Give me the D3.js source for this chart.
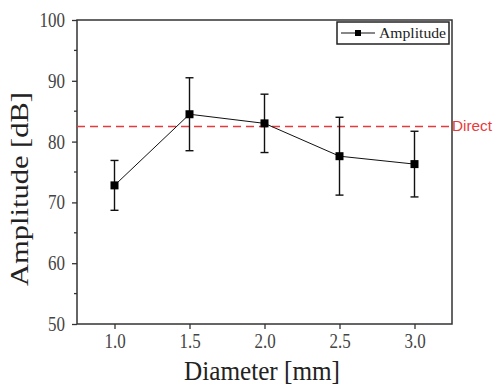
<!DOCTYPE html>
<html>
<head>
<meta charset="utf-8">
<script src="https://cdn.jsdelivr.net/npm/d3@7"></script>
<style>
  body { margin: 0; background: #fff; }
  svg { display: block; }
</style>
</head>
<body>
<svg id="chart" width="494" height="387"></svg>
<script>
// data
const diameters = [1.0, 1.5, 2.0, 2.5, 3.0];
const amplitude = [72.8, 84.5, 83.0, 77.6, 76.3];
const errors = [4.1, 6.0, 4.8, 6.4, 5.4];
const directLevel = 82.5;
const xTicks = [1.0, 1.5, 2.0, 2.5, 3.0];
const yTicks = [50, 60, 70, 80, 90, 100];
const yMinor = [55, 65, 75, 85, 95];

const serif = "'Liberation Serif', 'Times New Roman', serif";
const m = { left: 77, top: 20, right: 452, bottom: 324 };
const squeeze = 0.85; // the original text looks narrow, squash it a bit

const svg = d3.select("#chart");

const x = d3.scaleLinear().domain([0.75, 3.25]).range([m.left, m.right]);
const y = d3.scaleLinear().domain([50, 100]).range([m.bottom, m.top]);

const axisColor = "#333";

// squash text horizontally via textLength
function narrow(sel, k = squeeze) {
  sel.each(function() {
    const w = this.getComputedTextLength();
    d3.select(this).attr("textLength", w * k).attr("lengthAdjust", "spacingAndGlyphs");
  });
}

// frame
svg.append("rect")
    .attr("x", m.left).attr("y", m.top)
    .attr("width", m.right - m.left).attr("height", m.bottom - m.top)
    .attr("fill", "none").attr("stroke", axisColor).attr("stroke-width", 1.5);

// x axis
const gx = svg.append("g")
    .attr("transform", `translate(0,${m.bottom})`)
    .call(d3.axisBottom(x).tickValues(xTicks).tickFormat(d3.format(".1f")).tickSize(5).tickPadding(5));
gx.select(".domain").remove();
gx.selectAll("line").attr("stroke", axisColor).attr("stroke-width", 1.3);
gx.selectAll("text").attr("font-family", serif).attr("font-size", 20).attr("fill", "#444")
    .call(narrow);

// y axis
const gy = svg.append("g")
    .attr("transform", `translate(${m.left},0)`)
    .call(d3.axisLeft(y).tickValues(yTicks).tickSize(5).tickPadding(7));
gy.select(".domain").remove();
gy.selectAll("line").attr("stroke", axisColor).attr("stroke-width", 1.3);
gy.selectAll("text").attr("font-family", serif).attr("font-size", 20).attr("fill", "#444")
    .call(narrow);

svg.append("g")
  .selectAll("line")
  .data(yMinor)
  .join("line")
    .attr("x1", m.left - 3).attr("x2", m.left)
    .attr("y1", d => y(d)).attr("y2", d => y(d))
    .attr("stroke", axisColor).attr("stroke-width", 1.3);

// axis titles
svg.append("text")
    .attr("x", 262).attr("y", 380)
    .attr("text-anchor", "middle")
    .attr("font-family", serif).attr("font-size", 28).attr("fill", "#222")
    .attr("textLength", 156).attr("lengthAdjust", "spacingAndGlyphs")
    .text("Diameter [mm]");

svg.append("text")
    .attr("transform", `translate(28,189) scale(${squeeze},1) rotate(-90)`)
    .attr("text-anchor", "middle")
    .attr("font-family", serif).attr("font-size", 29).attr("fill", "#222")
    .attr("textLength", 194).attr("lengthAdjust", "spacingAndGlyphs")
    .text("Amplitude [dB]");

// direct reference line
svg.append("line")
    .attr("x1", m.left).attr("x2", m.right)
    .attr("y1", y(directLevel)).attr("y2", y(directLevel))
    .attr("stroke", "#e8393d").attr("stroke-width", 1.5)
    .attr("stroke-dasharray", "8,5");

svg.append("text")
    .attr("x", m.right).attr("y", y(directLevel) + 5)
    .attr("font-family", "'Liberation Sans', Arial, sans-serif").attr("font-size", 14)
    .attr("fill", "#e8393d")
    .attr("textLength", 40).attr("lengthAdjust", "spacingAndGlyphs")
    .text("Direct");

const pts = diameters.map((d, i) => ({ x: d, y: amplitude[i], e: errors[i] }));

// line
svg.append("path")
    .datum(pts)
    .attr("fill", "none").attr("stroke", "#111").attr("stroke-width", 1)
    .attr("d", d3.line().x(d => x(d.x)).y(d => y(d.y)));

// error bars
const eb = svg.append("g").attr("stroke", "#111").attr("stroke-width", 1.4);
eb.selectAll(".v").data(pts).join("line")
    .attr("x1", d => x(d.x)).attr("x2", d => x(d.x))
    .attr("y1", d => y(d.y - d.e)).attr("y2", d => y(d.y + d.e));
eb.selectAll(".t").data(pts).join("line")
    .attr("x1", d => x(d.x) - 4).attr("x2", d => x(d.x) + 4)
    .attr("y1", d => y(d.y + d.e)).attr("y2", d => y(d.y + d.e));
eb.selectAll(".b").data(pts).join("line")
    .attr("x1", d => x(d.x) - 4).attr("x2", d => x(d.x) + 4)
    .attr("y1", d => y(d.y - d.e)).attr("y2", d => y(d.y - d.e));

// markers
svg.append("g")
  .selectAll("rect")
  .data(pts)
  .join("rect")
    .attr("x", d => x(d.x) - 4).attr("y", d => y(d.y) - 4)
    .attr("width", 8).attr("height", 8)
    .attr("fill", "#000");

// legend
const lg = svg.append("g");
lg.append("rect")
    .attr("x", 337).attr("y", 22).attr("width", 112).attr("height", 22)
    .attr("fill", "#fff").attr("stroke", "#222").attr("stroke-width", 1.5);
lg.append("line")
    .attr("x1", 341).attr("x2", 375).attr("y1", 33).attr("y2", 33)
    .attr("stroke", "#111").attr("stroke-width", 1.2);
lg.append("rect")
    .attr("x", 355).attr("y", 30).attr("width", 6).attr("height", 6).attr("fill", "#000");
lg.append("text")
    .attr("x", 379).attr("y", 38)
    .attr("font-family", serif).attr("font-size", 14).attr("fill", "#222")
    .attr("textLength", 67).attr("lengthAdjust", "spacingAndGlyphs")
    .text("Amplitude");
</script>
</body>
</html>
